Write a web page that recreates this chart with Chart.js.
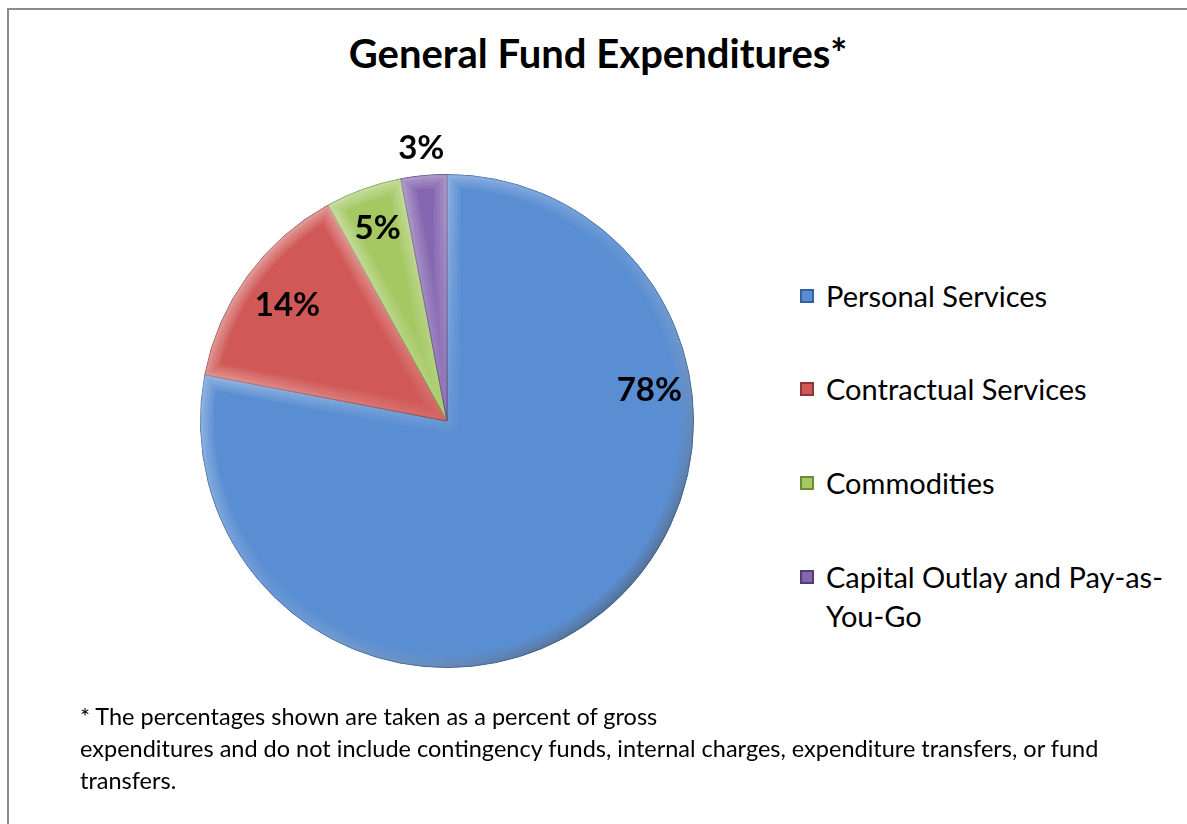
<!DOCTYPE html>
<html>
<head>
<meta charset="utf-8">
<script src="https://cdn.jsdelivr.net/npm/chart.js@4"></script>
<style>
  body { margin: 0; background: #fff; font-family: Lato, "Open Sans", sans-serif; color: #000; }
  #frame { position: absolute; left: 7px; top: 8px; width: 1200px; height: 840px;
           border-left: 2px solid #8c8c8c; border-top: 2px solid #8c8c8c; }
  #title { position: absolute; left: 9px; top: 29px; width: 1178px; text-align: center;
           font-weight: bold; font-size: 40px; }
  #pie { position: absolute; left: 147px; top: 121px; }
  #legend { position: absolute; left: 800px; top: 276px; width: 380px; font-size: 29px; }
  .item { position: relative; padding-left: 26px; line-height: 39px; }
  .box { position: absolute; left: 0; top: 13px; width: 14px; height: 14px; box-sizing: border-box; }
  #note { position: absolute; left: 80px; top: 700px; width: 1090px; font-size: 23.5px; line-height: 32px; }
</style>
</head>
<body>
<div id="frame"></div>
<div id="title">General Fund Expenditures*</div>
<canvas id="pie" width="600" height="600"></canvas>
<div id="legend"></div>
<div id="note">* The percentages shown are taken as a percent of gross<br>expenditures and do not include contingency funds, internal charges, expenditure transfers, or fund transfers.</div>
<script>
const categories = ['Personal Services', 'Contractual Services', 'Commodities', 'Capital Outlay and Pay-as-You-Go'];
const shares = [78, 14, 5, 3];
const colors = ['#5a8ed2', '#d05856', '#a5c863', '#8566b0'];
const edgeColors = ['#34639e', '#8f3533', '#6d8d35', '#523d75'];
const legendGaps = [0, 54, 55, 55];

// soft bevelled rim + data labels, roughly like the office 3D look
const pieExtras = {
  id: 'pieExtras',
  afterDatasetsDraw(chart, args, opts) {
    const ctx = chart.ctx;
    const arcs = chart.getDatasetMeta(0).data;
    arcs.forEach((arc) => {
      const { x, y, startAngle, endAngle, outerRadius } = arc.getProps(['x', 'y', 'startAngle', 'endAngle', 'outerRadius'], true);
      ctx.save();
      ctx.beginPath();
      ctx.moveTo(x, y);
      ctx.arc(x, y, outerRadius, startAngle, endAngle);
      ctx.closePath();
      ctx.clip();
      [26, 20, 14, 8, 4].forEach(w => {
        const g = ctx.createLinearGradient(x - outerRadius, y - outerRadius, x + outerRadius, y + outerRadius);
        g.addColorStop(0, 'rgba(255,255,255,0.13)');
        g.addColorStop(0.5, 'rgba(255,255,255,0.02)');
        g.addColorStop(1, 'rgba(0,0,0,0.14)');
        ctx.strokeStyle = g;
        ctx.lineWidth = w;
        ctx.lineJoin = 'round';
        ctx.stroke();
      });
      ctx.restore();
    });
    ctx.save();
    ctx.font = 'bold 33px Lato';
    ctx.fillStyle = '#000';
    ctx.textAlign = 'center';
    ctx.textBaseline = 'middle';
    arcs.forEach((arc, i) => {
      const { x, y, startAngle, endAngle, outerRadius } = arc.getProps(['x', 'y', 'startAngle', 'endAngle', 'outerRadius'], true);
      const a = startAngle + (endAngle - startAngle) * opts.along[i];
      const r = outerRadius * opts.radius[i];
      ctx.fillText(shares[i] + '%', x + Math.cos(a) * r, y + Math.sin(a) * r);
    });
    ctx.restore();
  }
};

new Chart(document.getElementById('pie'), {
  type: 'pie',
  data: {
    labels: categories,
    datasets: [{
      data: shares,
      backgroundColor: colors,
      borderColor: edgeColors,
      borderWidth: 1
    }]
  },
  options: {
    responsive: false,
    animation: false,
    layout: { padding: 53 },
    plugins: {
      legend: { display: false },
      tooltip: { enabled: false },
      pieExtras: { along: [0.29, 0.5, 0.5, 0.5], radius: [0.83, 0.8, 0.83, 1.11] }
    }
  },
  plugins: [pieExtras]
});

const legend = document.getElementById('legend');
categories.forEach((name, i) => {
  const item = document.createElement('div');
  item.className = 'item';
  item.style.marginTop = legendGaps[i] + 'px';
  item.innerHTML = '<span class="box" style="background:' + colors[i] + ';border:2px solid ' + edgeColors[i] + '"></span>' + name;
  legend.appendChild(item);
});
</script>
</body>
</html>
